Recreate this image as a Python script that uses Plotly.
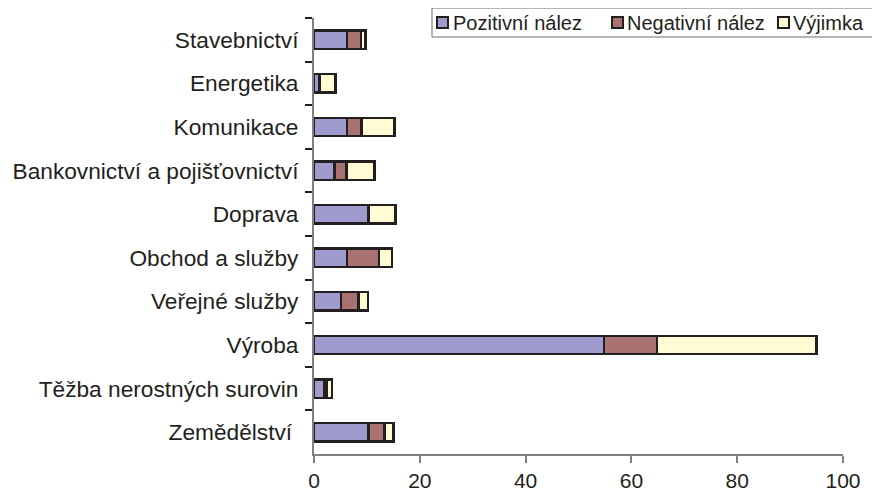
import plotly.graph_objects as go

categories = ["Stavebnictví", "Energetika", "Komunikace", "Bankovnictví a pojišťovnictví",
              "Doprava", "Obchod a služby", "Veřejné služby", "Výroba",
              "Těžba nerostných surovin", "Zemědělství\u00a0"]
pozitivni = [6.2, 1.0, 6.2, 3.9, 10.3, 6.2, 5.1, 54.8, 2.0, 10.3]
negativni = [2.7, 0.0, 2.8, 2.2, 0.0, 6.1, 3.3, 10.0, 0.4, 3.0]
vyjimka = [0.8, 3.1, 6.2, 5.3, 5.1, 2.4, 1.8, 30.2, 1.0, 1.7]
series_names = ["Pozitivní nález", "Negativní nález", "Výjimka"]
x_ticks = [0, 20, 40, 60, 80, 100]

colors = ["#9F9BCF", "#A87272", "#FFFBD2"]
edge = "#231F20"

# page body adds an 8px offset; plot box on screen: x 314..843, y 18..454
OFF = 8
W, H = 880, 496
L, T = 314 - OFF, 18 - OFF
R, B = W - (843 - OFF), H - (454 - OFF)
PW, PH = W - L - R, H - T - B


def px_x(x):
    return (x - OFF - L) / PW


def px_y(y):
    return (H - B - (y - OFF)) / PH


fig = go.Figure()
for name, vals, col in zip(series_names, [pozitivni, negativni, vyjimka], colors):
    fig.add_trace(go.Bar(
        y=categories, x=vals, name=name, orientation="h", showlegend=False,
        marker=dict(color=col, line=dict(color=edge, width=2.5)),
    ))

# legend drawn manually (compact Excel-style)
shapes = [dict(type="rect", xref="paper", yref="paper",
               x0=px_x(432), x1=px_x(878), y0=px_y(37), y1=px_y(8),
               line=dict(color="#6d6d6d", width=1), fillcolor="white", layer="above")]
annotations = []
sq_x = [437, 612, 778]
txt_x = [451, 625, 791]
for name, col, sx, tx in zip(series_names, colors, sq_x, txt_x):
    shapes.append(dict(type="rect", xref="paper", yref="paper",
                       x0=px_x(sx), x1=px_x(sx + 11), y0=px_y(28), y1=px_y(17),
                       line=dict(color=edge, width=2), fillcolor=col, layer="above"))
    annotations.append(dict(text=name, xref="paper", yref="paper", x=px_x(tx), y=px_y(23),
                            xanchor="left", yanchor="middle", showarrow=False,
                            font=dict(size=20, color=edge)))

fig.update_layout(
    width=W, height=H,
    barmode="stack", bargap=0.58,
    margin=dict(l=L, r=R, t=T, b=B),
    paper_bgcolor="white", plot_bgcolor="white",
    font=dict(family="Liberation Sans, Arial, sans-serif", size=22, color=edge),
    shapes=shapes, annotations=annotations,
    xaxis=dict(range=[0, 100], tickvals=x_ticks, ticks="outside", ticklen=7,
               tickwidth=1.5, tickcolor="#808080", showline=True, linecolor="#808080",
               linewidth=2, showgrid=False, zeroline=False, automargin=False,
               tickfont=dict(size=21), ticklabelstandoff=0),
    yaxis=dict(autorange="reversed", ticks="outside", ticklen=7, tickwidth=1.5,
               tickcolor=edge, tickson="boundaries", showline=True, automargin=False,
               linecolor="#808080", linewidth=2, showgrid=False,
               tickfont=dict(size=22.7), ticklabelstandoff=9),
)

fig.write_html("out.html")
